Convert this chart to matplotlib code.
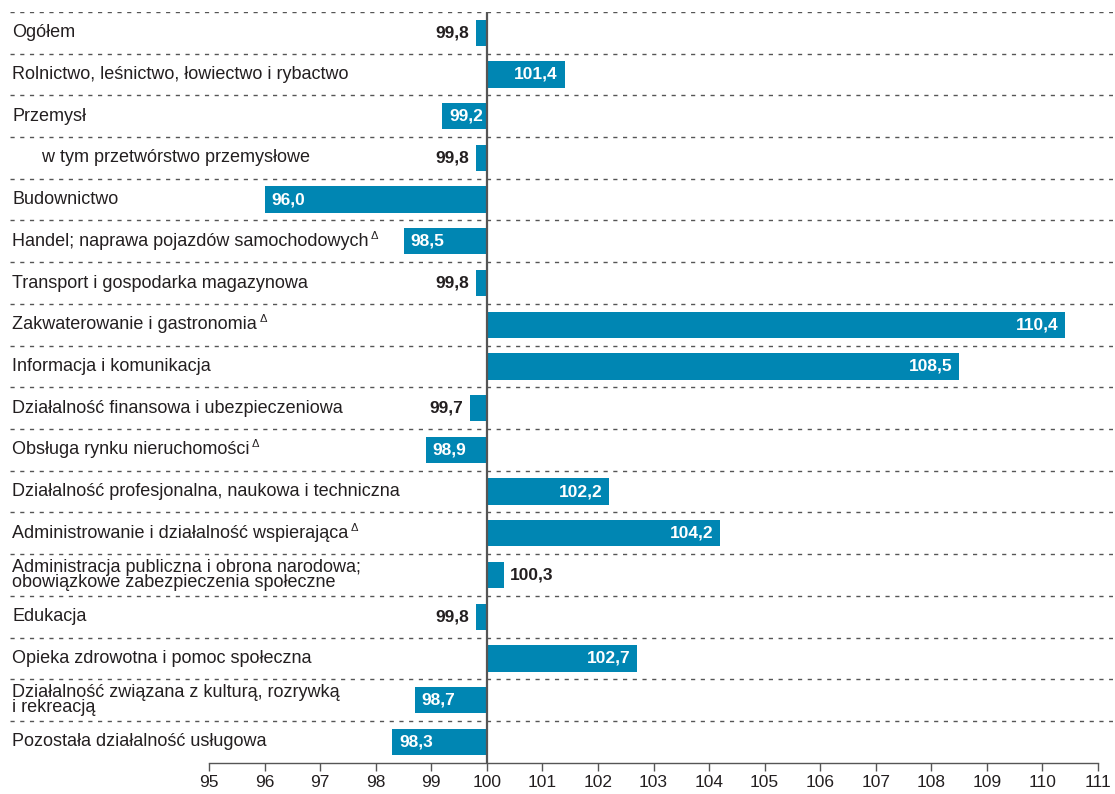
import matplotlib
matplotlib.use("Agg")
import matplotlib.pyplot as plt
import matplotlib.transforms as mtransforms

# row labels (top to bottom) and index values (previous year = 100)
categories = [
    "Ogółem",
    "Rolnictwo, leśnictwo, łowiectwo i rybactwo",
    "Przemysł",
    "      w tym przetwórstwo przemysłowe",
    "Budownictwo",
    "Handel; naprawa pojazdów samochodowych",
    "Transport i gospodarka magazynowa",
    "Zakwaterowanie i gastronomia",
    "Informacja i komunikacja",
    "Działalność finansowa i ubezpieczeniowa",
    "Obsługa rynku nieruchomości",
    "Działalność profesjonalna, naukowa i techniczna",
    "Administrowanie i działalność wspierająca",
    "Administracja publiczna i obrona narodowa;\nobowiązkowe zabezpieczenia społeczne",
    "Edukacja",
    "Opieka zdrowotna i pomoc społeczna",
    "Działalność związana z kulturą, rozrywką\ni rekreacją",
    "Pozostała działalność usługowa",
]
values = [99.8, 101.4, 99.2, 99.8, 96.0, 98.5, 99.8, 110.4, 108.5, 99.7,
          98.9, 102.2, 104.2, 100.3, 99.8, 102.7, 98.7, 98.3]
# rows marked with a delta sign
delta_rows = [5, 7, 10, 12]
xticks = list(range(95, 112))

base = 100
bar_color = "#0086b3"
text_color = "#231f20"
line_color = "#555555"
narrow = ["Liberation Sans Narrow", "Liberation Sans", "DejaVu Sans"]

plt.rcParams["font.family"] = ["Liberation Sans", "DejaVu Sans"]

fig = plt.figure(figsize=(11.15, 7.94), dpi=100)
ax = fig.add_axes([0.00897, 0.0395, 0.98924, 0.9455])

n = len(categories)
ypos = list(range(n))
widths = [v - base for v in values]
ax.barh(ypos, widths, left=base, height=0.63, color=bar_color, zorder=2)

ax.set_xlim(91.418, 111.269)
ax.set_ylim(n - 0.5, -0.5)

# dashed separators between rows
for k in range(n):
    ax.axhline(k - 0.5, color=line_color, lw=1.0, ls=(0, (3, 4)), zorder=1)
ax.axvline(base, color=line_color, lw=1.6, zorder=3)

# category labels at the left edge
lab_tr = mtransforms.blended_transform_factory(ax.transAxes, ax.transData)
label_texts = []
for i, lab in enumerate(categories):
    t = ax.text(0.002, i, lab, transform=lab_tr, ha="left", va="center",
                fontsize=13, color=text_color, linespacing=0.85)
    label_texts.append(t)

# value labels
off = 0.12
for i, v in enumerate(values):
    d = v - base
    s = f"{v:.1f}".replace(".", ",")
    inside = abs(d) >= 0.5
    if inside:
        x, ha, col = (v + off, "left", "white") if d < 0 else (v - off, "right", "white")
    else:
        x, ha, col = (v - off, "right", text_color) if d < 0 else (v + off, "left", text_color)
    ax.text(x, i, s, ha=ha, va="center", color=col, fontsize=12.5,
            fontweight="bold", family=narrow, zorder=4)

for sp in ["top", "right", "left"]:
    ax.spines[sp].set_visible(False)
ax.spines["bottom"].set_bounds(95, 111)
ax.spines["bottom"].set_color(line_color)
ax.spines["bottom"].set_linewidth(1.0)
ax.set_yticks([])
ax.set_xticks(xticks)
ax.set_xticklabels([str(t) for t in xticks], family=narrow, fontsize=12.5,
                   color=text_color)
ax.tick_params(axis="x", length=6, width=1.0, color=line_color, pad=3)

# delta marks right after the label text
fig.canvas.draw()
renderer = fig.canvas.get_renderer()
inv = ax.transAxes.inverted()
for i in delta_rows:
    bb = label_texts[i].get_window_extent(renderer)
    x1 = inv.transform((bb.x1, bb.y1))[0]
    ax.text(x1 + 0.002, i - 0.13, "\u0394", transform=lab_tr, ha="left",
            va="center", fontsize=8, color=text_color)

fig.savefig("out.png", dpi=100)
